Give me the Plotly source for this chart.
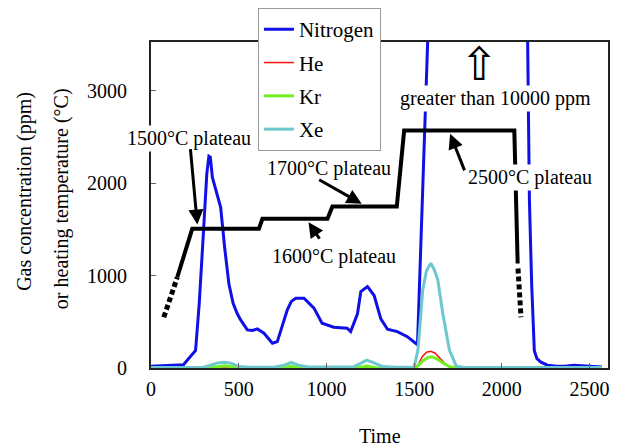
import plotly.graph_objects as go

# ---------------- data ----------------
nitrogen_x = [0, 100, 185, 254, 275, 300, 318, 330, 338, 350, 374, 397, 420, 444, 468, 492, 511,
              549, 578, 606, 644, 692, 720, 748, 777, 800, 825, 872, 900, 929, 975, 1042, 1118,
              1138, 1177, 1196, 1234, 1272, 1310, 1348, 1404, 1461, 1508, 1519, 1577, 1590,
              2130, 2147, 2157, 2170, 2185, 2200, 2223, 2260, 2310, 2360, 2410, 2450, 2510, 2570]
nitrogen_y = [20, 25, 35, 189, 700, 1500, 2100, 2290, 2280, 2060, 1886, 1738, 1300, 910, 700, 586, 520,
              412, 405, 422, 376, 268, 285, 450, 628, 720, 755, 755, 700, 647, 484, 441, 430,
              394, 586, 827, 881, 784, 532, 419, 394, 339, 268, 250, 3525, 11000,
              11000, 3525, 1816, 900, 186, 100, 63, 30, 20, 20, 30, 25, 15, 10]

he_x = [0, 300, 330, 360, 700, 780, 810, 840, 1000, 1500, 1520, 1545, 1570, 1595, 1620, 1650, 1680,
        1710, 1800, 2300, 2330, 2360, 2570]
he_y = [0, 0, 12, 0, 0, 0, 15, 0, 0, 0, 20, 120, 170, 180, 160, 100, 40, 5, 0, 0, 10, 0, 0]

kr_x = [0, 340, 420, 500, 760, 800, 840, 1180, 1230, 1280, 1500, 1520, 1550, 1580, 1600, 1630,
        1660, 1700, 1750, 2570]
kr_y = [0, 2, 25, 2, 2, 20, 2, 2, 20, 2, 0, 20, 80, 115, 122, 100, 60, 15, 0, 0]

xe_x = [0, 300, 340, 380, 420, 460, 500, 560, 700, 760, 800, 840, 900, 1000, 1150, 1195, 1230,
        1265, 1320, 1400, 1500, 1522, 1549, 1570, 1595, 1615, 1635, 1663, 1701, 1740, 1780, 2000,
        2300, 2570]
xe_y = [5, 8, 30, 55, 62, 50, 15, 8, 8, 30, 60, 30, 10, 8, 10, 50, 85, 60, 15, 8, 8, 200, 845,
        1050, 1134, 1060, 953, 592, 195, 20, 8, 5, 5, 5]

temp_solid_x = [150, 235, 615, 635, 1006, 1034, 1401, 1443, 2071, 2090]
temp_solid_y = [982, 1505, 1505, 1613, 1613, 1746, 1746, 2568, 2568, 1130]
temp_left_dash_x = [73, 150]
temp_left_dash_y = [549, 982]
temp_right_dash_x = [2092, 2109]
temp_right_dash_y = [1076, 549]

series_names = ["Nitrogen", "He", "Kr", "Xe"]
series_colors = ["#1010e6", "#ff1010", "#70f020", "#6cc8cc"]

x_ticks = [0, 500, 1000, 1500, 2000, 2500]
y_ticks = [0, 1000, 2000, 3000]

FONT = "Liberation Serif, Times New Roman, serif"

fig = go.Figure()
series = [(nitrogen_x, nitrogen_y, 3), (he_x, he_y, 1.5), (kr_x, kr_y, 3), (xe_x, xe_y, 3)]
for (xs, ys, w), name, col in zip(series, series_names, series_colors):
    fig.add_trace(go.Scatter(x=xs, y=ys, mode="lines", name=name, legendgroup=name,
                             line=dict(color=col, width=w)))

fig.add_trace(go.Scatter(x=temp_solid_x, y=temp_solid_y, mode="lines", showlegend=False,
                         line=dict(color="black", width=4)))
fig.add_trace(go.Scatter(x=temp_left_dash_x, y=temp_left_dash_y, mode="lines", showlegend=False,
                         line=dict(color="black", width=5, dash="5px,3px")))
fig.add_trace(go.Scatter(x=temp_right_dash_x, y=temp_right_dash_y, mode="lines", showlegend=False,
                         line=dict(color="black", width=5, dash="5px,3px")))

ann_font = dict(family=FONT, size=20, color="black")
annotations = [
    dict(x=214, y=2481, text="1500°C plateau", showarrow=False, bgcolor="white", font=ann_font),
    dict(x=1015, y=2153, text="1700°C plateau", showarrow=False, font=ann_font),
    dict(x=1043, y=1205, text="1600°C plateau", showarrow=False, font=ann_font),
    dict(x=2160, y=2056, text="2500°C plateau", showarrow=False, bgcolor="white", font=ann_font),
    dict(x=1963, y=2910, text="greater than 10000 ppm", showarrow=False, bgcolor="white",
         font=ann_font),
    dict(x=1875, y=3290, text="⇧", showarrow=False,
         font=dict(family="DejaVu Sans", size=46, color="black")),
    # arrows
    dict(x=264, y=1551, ax=-7, ay=-77, text="", showarrow=True, arrowhead=2, arrowsize=1,
         arrowwidth=3, arrowcolor="black"),
    dict(x=898, y=1576, ax=12, ay=18, text="", showarrow=True, arrowhead=2, arrowsize=1,
         arrowwidth=3, arrowcolor="black"),
    dict(x=1201, y=1775, ax=-44, ay=-25, text="", showarrow=True, arrowhead=2, arrowsize=1,
         arrowwidth=3, arrowcolor="black"),
    dict(x=1705, y=2532, ax=15, ay=38, text="", showarrow=True, arrowhead=2, arrowsize=1,
         arrowwidth=3, arrowcolor="black"),
    # axis titles
    dict(xref="paper", yref="paper", x=-0.276, y=0.543, xanchor="center", yanchor="middle",
         text="Gas concentration (ppm)", textangle=-90, showarrow=False, font=ann_font),
    dict(xref="paper", yref="paper", x=-0.197, y=0.521, xanchor="center", yanchor="middle",
         text="or heating temperature (°C)", textangle=-90, showarrow=False, font=ann_font),
    dict(xref="paper", yref="paper", x=0.5, y=-0.209, xanchor="center", yanchor="middle",
         text="Time", showarrow=False, font=ann_font),
]

# the page body adds an 8px offset; margins compensate so the plot lands where the reference has it
fig.update_layout(
    width=623, height=446,
    margin=dict(l=143, r=23, t=34, b=86, autoexpand=False),
    paper_bgcolor="white", plot_bgcolor="white",
    font=dict(family=FONT, size=20, color="black"),
    annotations=annotations,
    legend=dict(x=0.234, y=1.104, xanchor="left", yanchor="top", bgcolor="white",
                bordercolor="#999999", borderwidth=1, tracegroupgap=3,
                font=dict(family=FONT, size=21, color="black")),
    xaxis=dict(range=[0, 2605], tickvals=x_ticks, ticks="inside", ticklen=5, tickcolor="#666",
               showline=True, linecolor="#222", linewidth=2, mirror=True, showgrid=False,
               zeroline=False, ticklabelstandoff=2),
    yaxis=dict(range=[0, 3525], tickvals=y_ticks, ticks="inside", ticklen=5, tickcolor="#666",
               showline=True, linecolor="#222", linewidth=2, mirror=True, showgrid=False,
               zeroline=False, ticklabelstandoff=18),
)

fig.write_html("out.html")
